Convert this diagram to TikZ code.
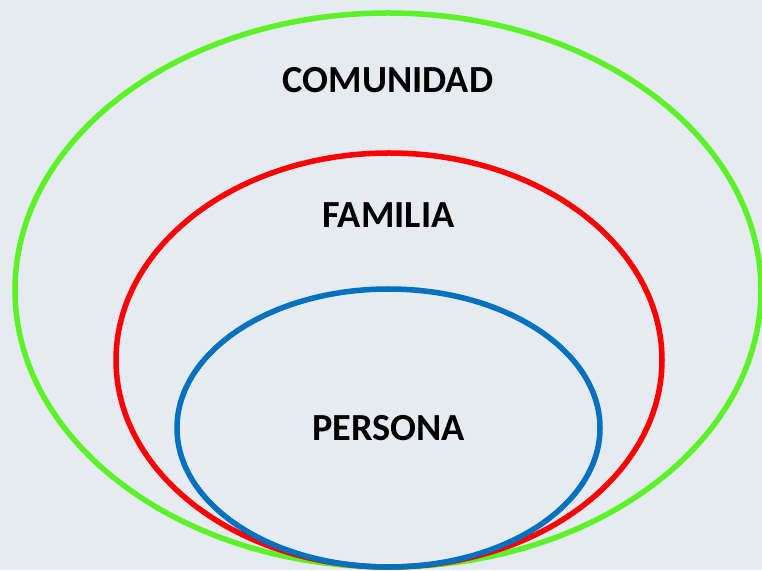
\documentclass[tikz,border=0pt]{standalone}
\usepackage{fontspec}
\setmainfont{Carlito}
\usetikzlibrary{shapes.geometric}
\definecolor{bg-grey}{RGB}{230,234,241}
\definecolor{ring-green}{RGB}{92,242,40}
\definecolor{ring-red}{RGB}{255,0,0}
\definecolor{ring-blue}{RGB}{0,112,192}

\begin{document}
\begin{tikzpicture}
    [ring/.style = {ellipse, draw, line width=0.11cm, inner sep=0pt},
    lbl/.style = {inner sep=0pt, font=\fontsize{21.8}{26}\selectfont\bfseries},
    ]

    \fill[bg-grey] (0, 0) rectangle (15.24, 11.40);
    \useasboundingbox (0, 0) rectangle (15.24, 11.40);

	\node[ring, draw=ring-green, minimum width=14.92cm, minimum height=11.08cm] (comunidad) at (7.76, 5.60) {};
	\node[ring, draw=ring-red, minimum width=10.92cm, minimum height=8.28cm] (familia) at (7.78, 4.20) {};
	\node[ring, draw=ring-blue, minimum width=8.46cm, minimum height=5.56cm] (persona) at (7.77, 2.84) {};

	\node[lbl] (comunidad-text) at (7.76, 9.80) {COMUNIDAD};
	\node[lbl] (familia-text) at (7.77, 7.10) {FAMILIA};
	\node[lbl] (persona-text) at (persona.center) {PERSONA};
\end{tikzpicture}
\end{document}
